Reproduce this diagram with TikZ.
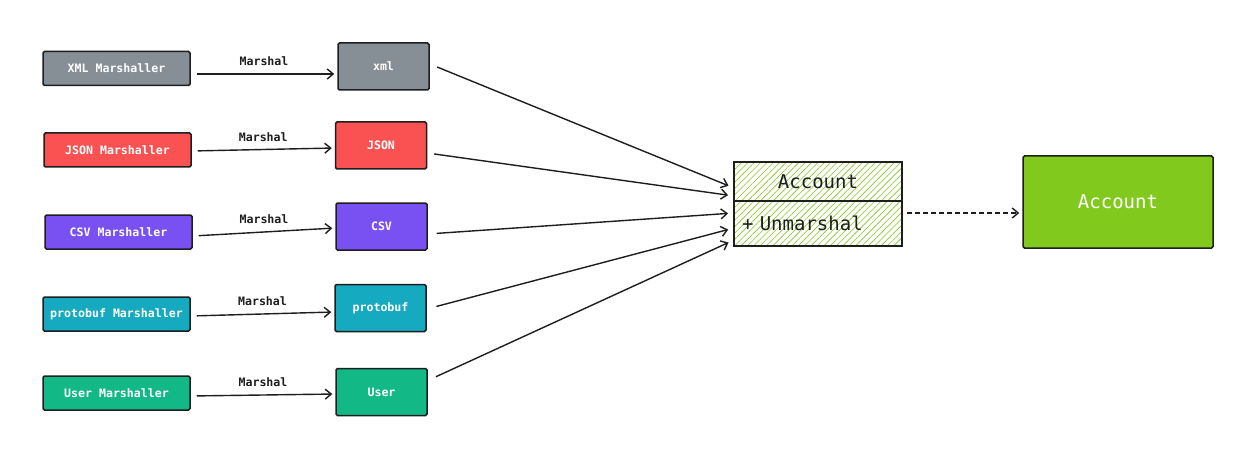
\documentclass[tikz,border=0pt]{standalone}
\usepackage{xcolor}
\usepackage{fontspec}
\newfontfamily\codefont{DejaVu Sans Mono}
\definecolor{ink}{HTML}{1E1E1E}
\definecolor{grayc}{HTML}{868E96}
\definecolor{redc}{HTML}{FA5252}
\definecolor{violetc}{HTML}{7950F2}
\definecolor{cyanc}{HTML}{15AABF}
\definecolor{tealc}{HTML}{12B886}
\definecolor{limec}{HTML}{82C91E}
\usepackage{tikz}
\usetikzlibrary{arrows.meta,patterns.meta}
\newcommand{\codesm}{\codefont\bfseries\fontsize{11.6}{14}\selectfont}
\newcommand{\codelg}{\codefont\fontsize{19}{22}\selectfont}
\tikzset{
  src_box/.style={draw=ink,line width=1.5pt,rounded corners=1.5pt,
    minimum width=147pt,minimum height=34pt,inner sep=0pt,font=\codesm\color{white}},
  fmt_box/.style={draw=ink,line width=1.5pt,rounded corners=1.5pt,
    minimum width=91pt,minimum height=47pt,inner sep=0pt,font=\codesm\color{white}},
  cls_box/.style={draw=ink,line width=1.4pt,minimum width=168pt,inner xsep=8pt,inner ysep=0pt,outer sep=0pt,
    pattern={Lines[angle=45,distance=4.5pt,line width=0.6pt]},pattern color=limec,font=\codelg\color{ink}},
  out_box/.style={draw=ink,fill=limec,line width=1.5pt,rounded corners=1.5pt,
    minimum width=190pt,minimum height=92pt,font=\codelg\color{white}},
  lbl/.style={font=\codesm\color{ink},above=4pt},
  arr/.style={-{Straight Barb[length=6pt,width=10pt]},draw=ink,line width=1.4pt},
}

\begin{document}
\begin{tikzpicture}[x=1pt,y=-1pt]
  \fill[white] (0,0) rectangle (1260,465);
  \useasboundingbox (0,0) rectangle (1260,465);

  \node[src_box,fill=grayc] (xml_m) at (116.5,68.5) {XML Marshaller};
  \node[src_box,fill=redc] (json_m) at (117.5,150) {JSON Marshaller};
  \node[src_box,fill=violetc] (csv_m) at (118.5,232) {CSV Marshaller};
  \node[src_box,fill=cyanc] (pb_m) at (116.5,314) {protobuf Marshaller};
  \node[src_box,fill=tealc] (user_m) at (116.5,393) {User Marshaller};

  \node[fmt_box,fill=grayc] (xml) at (383.5,66.5) {xml};
  \node[fmt_box,fill=redc] (json) at (381,145.5) {JSON};
  \node[fmt_box,fill=violetc] (csv) at (381.5,226.5) {CSV};
  \node[fmt_box,fill=cyanc] (pb) at (380.5,308) {protobuf};
  \node[fmt_box,fill=tealc] (user) at (381.5,392) {User};

  \node[cls_box,minimum height=39pt] (acc_head) at (818,181.5) {Account};
  \node[cls_box,minimum height=45pt,text width=152pt,align=left,anchor=north] (acc_body) at (acc_head.south) {+ Unmarshal};
  \node[out_box] (acct) at (1118,202) {Account};

  \draw[arr,shorten <=6pt,shorten >=3pt] ([yshift=-5.5pt]xml_m.east) -- node[lbl] {Marshal} ([yshift=-7.5pt]xml.west);
  \draw[arr,shorten <=6pt,shorten >=3pt] ([yshift=-1pt]json_m.east) -- node[lbl] {Marshal} ([yshift=-2.5pt]json.west);
  \draw[arr,shorten <=6pt,shorten >=3pt] ([yshift=-4pt]csv_m.east) -- node[lbl] {Marshal} ([yshift=-1.5pt]csv.west);
  \draw[arr,shorten <=6pt,shorten >=3pt] ([yshift=-2pt]pb_m.east) -- node[lbl] {Marshal} ([yshift=-4pt]pb.west);
  \draw[arr,shorten <=6pt,shorten >=3pt] ([yshift=-3pt]user_m.east) -- node[lbl] {Marshal} ([yshift=-2pt]user.west);

  \draw[arr,shorten <=8pt,shorten >=6pt] ([yshift=2.5pt]xml.east) -- ([yshift=-6.5pt]acc_head.west);
  \draw[arr,shorten <=7pt,shorten >=6pt] ([yshift=-7.5pt]json.east) -- ([yshift=-14.5pt]acc_head.west);
  \draw[arr,shorten <=9pt,shorten >=6pt] ([yshift=-7.5pt]csv.east) -- ([yshift=10.5pt]acc_body.west);
  \draw[arr,shorten <=10pt,shorten >=6pt] ([yshift=-1pt]pb.east) -- ([yshift=-4.5pt]acc_body.west);
  \draw[arr,shorten <=9pt,shorten >=6pt] ([yshift=11.5pt]user.east) -- ([yshift=-16.5pt]acc_body.west);

  \draw[arr,dash pattern=on 5pt off 3pt,shorten <=5pt,shorten >=3pt] ([yshift=10.5pt]acc_body.east) -- ([yshift=-11pt]acct.west);
\end{tikzpicture}
\end{document}
